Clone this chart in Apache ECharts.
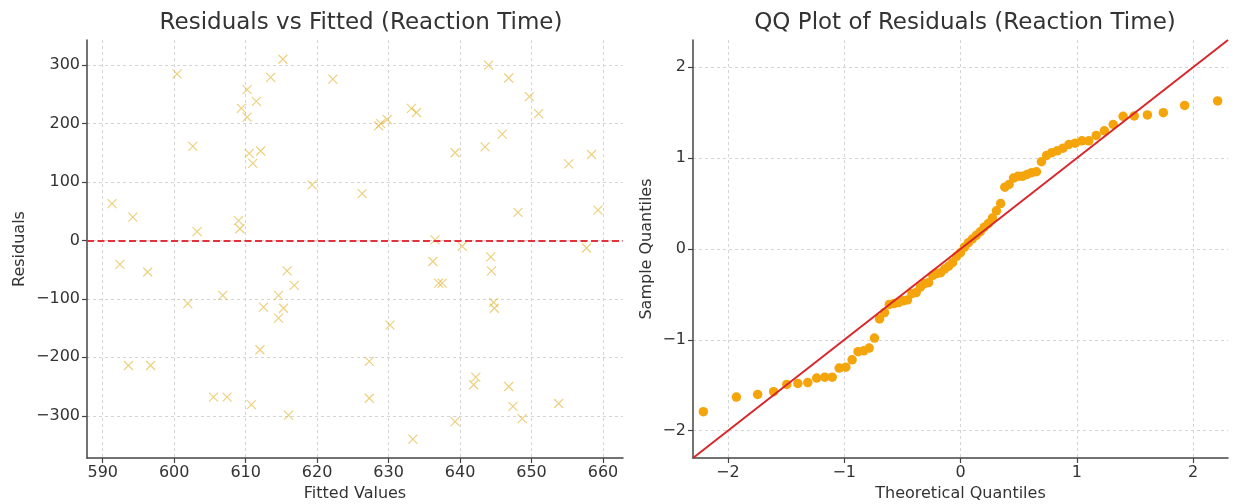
<!DOCTYPE html>
<html>
<head>
<meta charset="UTF-8" />
<title>Residual diagnostics</title>
<script src="https://cdn.jsdelivr.net/npm/echarts@6/dist/echarts.min.js"></script>
<style>
  html, body { margin: 0; padding: 0; background: #fff; }
  #main { width: 1233px; height: 504px; }
</style>
</head>
<body>
<div id="main"></div>
<script type="text/javascript">

    // residuals vs fitted
    var fittedVals = [591.3, 594.2, 600.4, 602.6, 603.2, 609.0, 609.2, 609.4, 610.2, 610.2,
        611.5, 610.5, 611.0, 612.1, 613.5, 615.2, 619.3, 622.2, 626.3, 628.6,
        628.9, 629.8, 633.2, 633.9, 639.3, 636.5, 640.3, 644.0, 646.8, 649.7,
        651.0, 643.5, 645.9, 648.1, 655.2, 658.4, 659.3, 657.7, 636.2, 644.3,
        592.4, 596.3, 601.9, 606.8, 593.6, 596.7, 605.5, 607.4, 610.8, 612.0,
        612.5, 614.6, 615.3, 614.6, 615.8, 616.8, 616.0, 637.0, 637.5, 644.4,
        644.7, 644.8, 630.2, 627.3, 627.3, 633.4, 639.3, 642.2, 641.9, 646.8,
        647.4, 648.7, 653.8];
    var residVals = [63, 40, 285, 161, 15, 34, 20, 226, 258, 211,
        238, 149, 132, 153, 279, 310, 95, 276, 80, 196,
        200, 207, 226, 219, 150, 1, -10, 300, 278, 246,
        217, 160, 182, 48, 131, 147, 52, -13, -36, -28,
        -41, -54, -108, -94, -214, -214, -268, -268, -281, -187,
        -114, -94, -116, -133, -52, -77, -299, -73, -73, -52,
        -106, -116, -145, -207, -270, -340, -310, -234, -247, -250,
        -284, -305, -279];

    // QQ plot points
    var theoQ = [-2.211, -1.927, -1.744, -1.607, -1.494, -1.398, -1.313, -1.237, -1.167, -1.103,
        -1.043, -0.986, -0.932, -0.881, -0.832, -0.785, -0.740, -0.696, -0.653, -0.612,
        -0.572, -0.533, -0.494, -0.456, -0.418, -0.381, -0.345, -0.309, -0.274, -0.239,
        -0.204, -0.170, -0.136, -0.102, -0.068, -0.034, 0.000, 0.034, 0.068, 0.102,
        0.136, 0.170, 0.204, 0.239, 0.274, 0.309, 0.345, 0.381, 0.418, 0.456,
        0.494, 0.533, 0.572, 0.612, 0.653, 0.696, 0.740, 0.785, 0.832, 0.881,
        0.932, 0.986, 1.043, 1.103, 1.167, 1.237, 1.313, 1.398, 1.494, 1.607,
        1.744, 1.927, 2.211];
    var sampleQ = [-1.79, -1.63, -1.60, -1.57, -1.49, -1.48, -1.47, -1.42, -1.41, -1.41,
        -1.31, -1.30, -1.22, -1.13, -1.12, -1.09, -0.98, -0.77, -0.70, -0.61,
        -0.60, -0.59, -0.57, -0.56, -0.49, -0.48, -0.42, -0.38, -0.37, -0.29,
        -0.27, -0.26, -0.22, -0.19, -0.15, -0.08, -0.04, 0.02, 0.07, 0.11,
        0.15, 0.19, 0.24, 0.28, 0.34, 0.42, 0.50, 0.68, 0.71, 0.78,
        0.80, 0.80, 0.82, 0.84, 0.85, 0.96, 1.03, 1.06, 1.08, 1.11,
        1.15, 1.165, 1.19, 1.19, 1.25, 1.30, 1.37, 1.46, 1.465, 1.475,
        1.50, 1.58, 1.63];

    // 45 degree reference line end points
    var refLine = [[-2.3, -2.3], [2.3, 2.3]];

    // tick values
    var fittedTicks = [590, 600, 610, 620, 630, 640, 650, 660];
    var residTicks = [-300, -200, -100, 0, 100, 200, 300];
    var qTicks = [-2, -1, 0, 1, 2];

    var residPoints = [];
    for (let i = 0; i < fittedVals.length; i++) {
        residPoints.push([fittedVals[i], residVals[i]]);
    }
    var qqPoints = [];
    for (let i = 0; i < theoQ.length; i++) {
        qqPoints.push([theoQ[i], sampleQ[i]]);
    }

    var FONT = 'DejaVu Sans';
    var TXT = '#333';

    function fmt(v) {
        var s = String(Math.round(v * 1000) / 1000);
        return s.replace('-', '\u2212');
    }

    function makeAxis(idx, ticks, min, max, name, gap) {
        return {
            type: 'value',
            gridIndex: idx,
            min: min,
            max: max,
            name: name,
            nameLocation: 'middle',
            nameGap: gap,
            nameTextStyle: { fontFamily: FONT, fontSize: 16, color: TXT },
            axisLine: { show: true, onZero: false, lineStyle: { color: '#444', width: 1.5 } },
            axisTick: { show: true, length: 5, customValues: ticks, lineStyle: { color: '#444', width: 1.2 } },
            axisLabel: {
                customValues: ticks,
                fontFamily: FONT, fontSize: 16, color: TXT, margin: 7,
                formatter: fmt
            },
            splitLine: { show: true, lineStyle: { color: '#d4d4d4', width: 1, type: [3, 3] } }
        };
    }

    var option = {
        animation: false,
        backgroundColor: '#fff',
        title: [
            { text: 'Residuals vs Fitted (Reaction Time)', left: 356, top: 7, textAlign: 'center',
              textStyle: { fontFamily: FONT, fontSize: 23, fontWeight: 'normal', color: TXT } },
            { text: 'QQ Plot of Residuals (Reaction Time)', left: 960, top: 7, textAlign: 'center',
              textStyle: { fontFamily: FONT, fontSize: 23, fontWeight: 'normal', color: TXT } }
        ],
        grid: [
            { left: 87, top: 40, width: 536, height: 418, containLabel: false, outerBoundsMode: 'none' },
            { left: 693, top: 40, width: 535, height: 418, containLabel: false, outerBoundsMode: 'none' }
        ],
        xAxis: [
            makeAxis(0, fittedTicks, 587.8, 662.8, 'Fitted Values', 28),
            makeAxis(1, qTicks, -2.3, 2.3, 'Theoretical Quantiles', 28)
        ],
        yAxis: [
            makeAxis(0, residTicks, -372.3, 343, 'Residuals', 59),
            makeAxis(1, qTicks, -2.3, 2.3, 'Sample Quantiles', 38)
        ],
        series: [
            {
                type: 'scatter',
                xAxisIndex: 0, yAxisIndex: 0,
                data: residPoints,
                symbol: 'path://M0,0L10,10M10,0L0,10',
                symbolSize: 9,
                itemStyle: { color: 'rgba(0,0,0,0)', borderColor: 'rgba(225,176,40,0.75)', borderWidth: 1.2 },
                emphasis: { disabled: true },
                markLine: {
                    silent: true,
                    symbol: ['none', 'none'],
                    label: { show: false },
                    lineStyle: { color: '#e2333d', width: 2, type: [7, 3.5] },
                    data: [{ yAxis: 0 }]
                }
            },
            {
                type: 'scatter',
                xAxisIndex: 1, yAxisIndex: 1,
                data: qqPoints,
                symbol: 'circle',
                symbolSize: 9.5,
                itemStyle: { color: '#f5a50c', opacity: 1 },
                emphasis: { disabled: true }
            },
            {
                type: 'line',
                xAxisIndex: 1, yAxisIndex: 1,
                data: refLine,
                showSymbol: false,
                z: 5,
                lineStyle: { color: '#d9262b', width: 2 }
            }
        ]
    };

    var myChart = echarts.init(document.getElementById('main'));
    myChart.setOption(option);
</script>
</body>
</html>
